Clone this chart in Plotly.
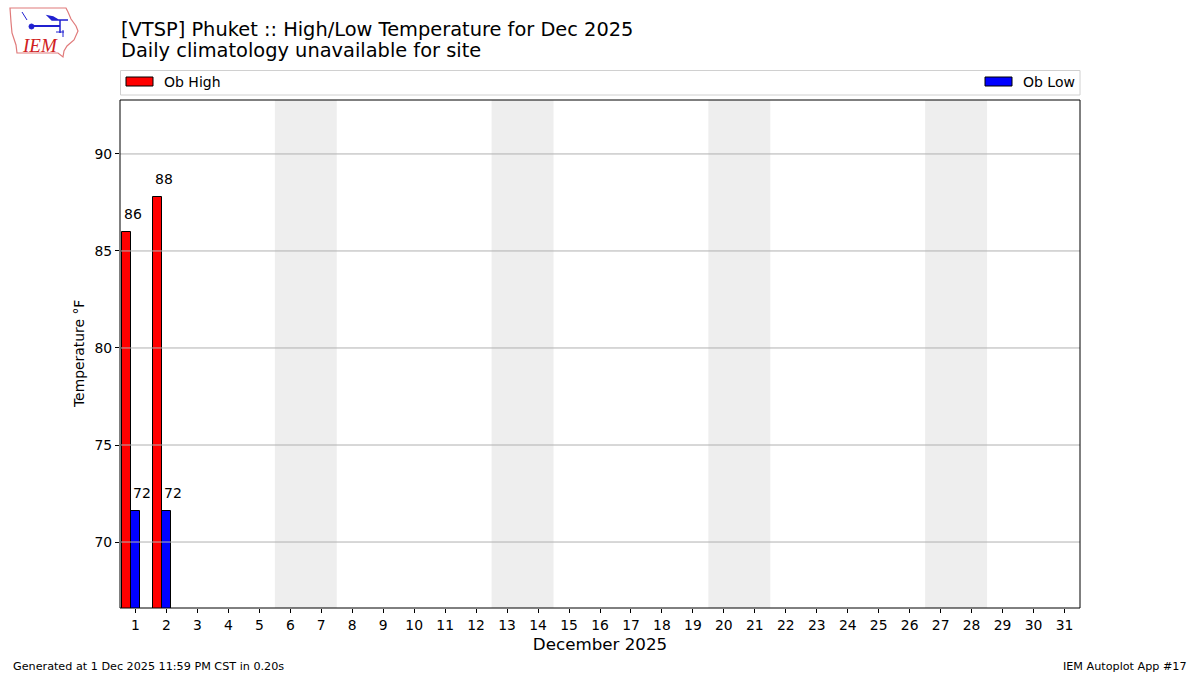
import plotly.graph_objects as go

# ---- data ----
days = list(range(1, 32))
obs_days = [1, 2]
ob_high = [86.0, 87.8]
ob_low = [71.6, 71.6]
weekends = [(6, 7), (13, 14), (20, 21), (27, 28)]
yticks = [70, 75, 80, 85, 90]
title_lines = ["[VTSP] Phuket :: High/Low Temperature for Dec 2025",
               "Daily climatology unavailable for site"]

W, H = 1200, 675
L, R, T, B = 120, 1080, 100, 608
FONT = "DejaVu Sans"


def px(x):
    return (x - L) / (R - L)


def py(y):
    return (B - y) / (B - T)


BW = 0.3
fig = go.Figure()
# high bars span day-0.45 .. day-0.15 ; low bars span day-0.15 .. day+0.15
fig.add_trace(go.Bar(x=[d - 0.3 for d in obs_days], y=ob_high, width=BW, offset=-0.15,
                     marker=dict(color="#ff0000", line=dict(color="black", width=1)),
                     name="Ob High", showlegend=False))
fig.add_trace(go.Bar(x=obs_days, y=ob_low, width=BW, offset=-0.15,
                     marker=dict(color="#0000ff", line=dict(color="black", width=1)),
                     name="Ob Low", showlegend=False))

shapes = []
for a, b in weekends:
    shapes.append(dict(type="rect", xref="x", yref="paper", x0=a - 0.5, x1=b + 0.5, y0=0, y1=1,
                       fillcolor="#eeeeee", line=dict(width=0), layer="below"))
for yv in yticks:
    shapes.append(dict(type="line", xref="paper", yref="y", x0=0, x1=1, y0=yv, y1=yv,
                       line=dict(color="#b0b0b0", width=1), layer="above"))
# frame
shapes.append(dict(type="rect", xref="paper", yref="paper", x0=0, x1=1, y0=0, y1=1,
                   line=dict(color="black", width=1), layer="above"))

# legend box (manual)
shapes.append(dict(type="rect", xref="paper", yref="paper", x0=px(120.5), x1=px(1080), y0=py(70.5), y1=py(95),
                   line=dict(color="#d0d0d0", width=1), fillcolor="white", layer="above"))
shapes.append(dict(type="rect", xref="paper", yref="paper", x0=px(126), x1=px(153), y0=py(77), y1=py(86),
                   line=dict(color="black", width=1), fillcolor="#ff0000"))
shapes.append(dict(type="rect", xref="paper", yref="paper", x0=px(985), x1=px(1012), y0=py(77), y1=py(86),
                   line=dict(color="black", width=1), fillcolor="#0000ff"))

# logo (approximate)
iowa = [(10, 8), (66, 8), (68, 12), (71, 19), (76, 26), (78, 31), (74, 40), (67, 46), (64, 51), (63, 57),
        (58, 53), (17, 53), (16, 45), (12, 33), (11, 22), (10, 8)]
path = "M " + " L ".join(f"{px(x)},{py(y)}" for x, y in iowa) + " Z"
shapes.append(dict(type="path", xref="paper", yref="paper", path=path,
                   line=dict(color="#e07a7a", width=1.2), fillcolor="rgba(0,0,0,0)"))
blue = "#2020d0"
shapes.append(dict(type="line", xref="paper", yref="paper", x0=px(31), x1=px(60), y0=py(26), y1=py(26),
                   line=dict(color=blue, width=2)))
shapes.append(dict(type="circle", xref="paper", yref="paper", x0=px(29), x1=px(34), y0=py(24), y1=py(29),
                   line=dict(color=blue, width=1), fillcolor=blue))
shapes.append(dict(type="line", xref="paper", yref="paper", x0=px(60), x1=px(60), y0=py(20), y1=py(33),
                   line=dict(color=blue, width=1.5)))
shapes.append(dict(type="path", xref="paper", yref="paper",
                   path=f"M {px(48)},{py(16)} L {px(53)},{py(17)} L {px(58)},{py(20)} L {px(68)},{py(20)} L {px(52)},{py(20)} Z",
                   line=dict(color=blue, width=1.5), fillcolor=blue))
shapes.append(dict(type="line", xref="paper", yref="paper", x0=px(22), x1=px(27), y0=py(12), y1=py(20),
                   line=dict(color=blue, width=1)))
shapes.append(dict(type="line", xref="paper", yref="paper", x0=px(56), x1=px(64), y0=py(32), y1=py(32),
                   line=dict(color=blue, width=1)))
shapes.append(dict(type="line", xref="paper", yref="paper", x0=px(63), x1=px(63), y0=py(30), y1=py(37),
                   line=dict(color=blue, width=1)))

ann = []
ann.append(dict(text="<i>IEM</i>", x=px(20), y=py(46), xref="paper", yref="paper", xanchor="left",
                yanchor="middle", showarrow=False,
                font=dict(family="Liberation Serif", size=19, color="#d02020")))
ann.append(dict(text=title_lines[0], x=px(119), y=py(29), xref="paper", yref="paper", xanchor="left",
                yanchor="middle", showarrow=False, font=dict(family=FONT, size=19.4, color="black")))
ann.append(dict(text=title_lines[1], x=px(119), y=py(51), xref="paper", yref="paper", xanchor="left",
                yanchor="middle", showarrow=False, font=dict(family=FONT, size=19.4, color="black")))
ann.append(dict(text="Ob High", x=px(162), y=py(82), xref="paper", yref="paper", xanchor="left",
                yanchor="middle", showarrow=False, font=dict(family=FONT, size=14, color="black")))
ann.append(dict(text="Ob Low", x=px(1021), y=py(82), xref="paper", yref="paper", xanchor="left",
                yanchor="middle", showarrow=False, font=dict(family=FONT, size=14, color="black")))
ann.append(dict(text="Generated at 1 Dec 2025 11:59 PM CST in 0.20s", x=px(11), y=py(666), xref="paper",
                yref="paper", xanchor="left", yanchor="middle", showarrow=False,
                font=dict(family=FONT, size=11.2, color="black")))
ann.append(dict(text="IEM Autoplot App #17", x=px(1189), y=py(666), xref="paper",
                yref="paper", xanchor="right", yanchor="middle", showarrow=False,
                font=dict(family=FONT, size=11.2, color="black")))
# y-axis title placed explicitly
ann.append(dict(text="Temperature °F", x=px(79), y=py(354), xref="paper", yref="paper", xanchor="center",
                yanchor="middle", textangle=-90, showarrow=False,
                font=dict(family=FONT, size=13.9, color="black")))
# bar value labels, left aligned at bar's left edge
for d, v in zip(obs_days, ob_high):
    ann.append(dict(text=f"{round(v):.0f}", x=d - 0.45, y=v, xref="x", yref="y", xanchor="left",
                    yanchor="bottom", yshift=8, showarrow=False, font=dict(family=FONT, size=14, color="black")))
for d, v in zip(obs_days, ob_low):
    ann.append(dict(text=f"{round(v):.0f}", x=d - 0.15, y=v, xref="x", yref="y", xanchor="left",
                    yanchor="bottom", yshift=8, showarrow=False, font=dict(family=FONT, size=14, color="black")))

fig.update_layout(
    width=W, height=H,
    margin=dict(l=L, r=W - R, t=T, b=H - B, pad=0),
    plot_bgcolor="white", paper_bgcolor="white",
    barmode="overlay", bargap=0,
    font=dict(family=FONT, size=14, color="black"),
    shapes=shapes, annotations=ann, showlegend=False,
    xaxis=dict(range=[0.5, 31.5], tickmode="array", tickvals=days, ticktext=[str(d) for d in days],
               ticks="outside", ticklen=4, tickcolor="black", showgrid=False, zeroline=False,
               showline=False, tickfont=dict(size=13.9),
               title=dict(text="December 2025", font=dict(size=16.7), standoff=6)),
    yaxis=dict(range=[66.6, 92.78], tickmode="array", tickvals=yticks, ticks="outside", ticklen=4,
               tickcolor="black", showgrid=False, zeroline=False, showline=False, tickfont=dict(size=13.9)),
)

fig.write_html("out.html", config={"displayModeBar": False},
               post_script="document.body.style.margin='0';document.body.style.overflow='hidden';")
